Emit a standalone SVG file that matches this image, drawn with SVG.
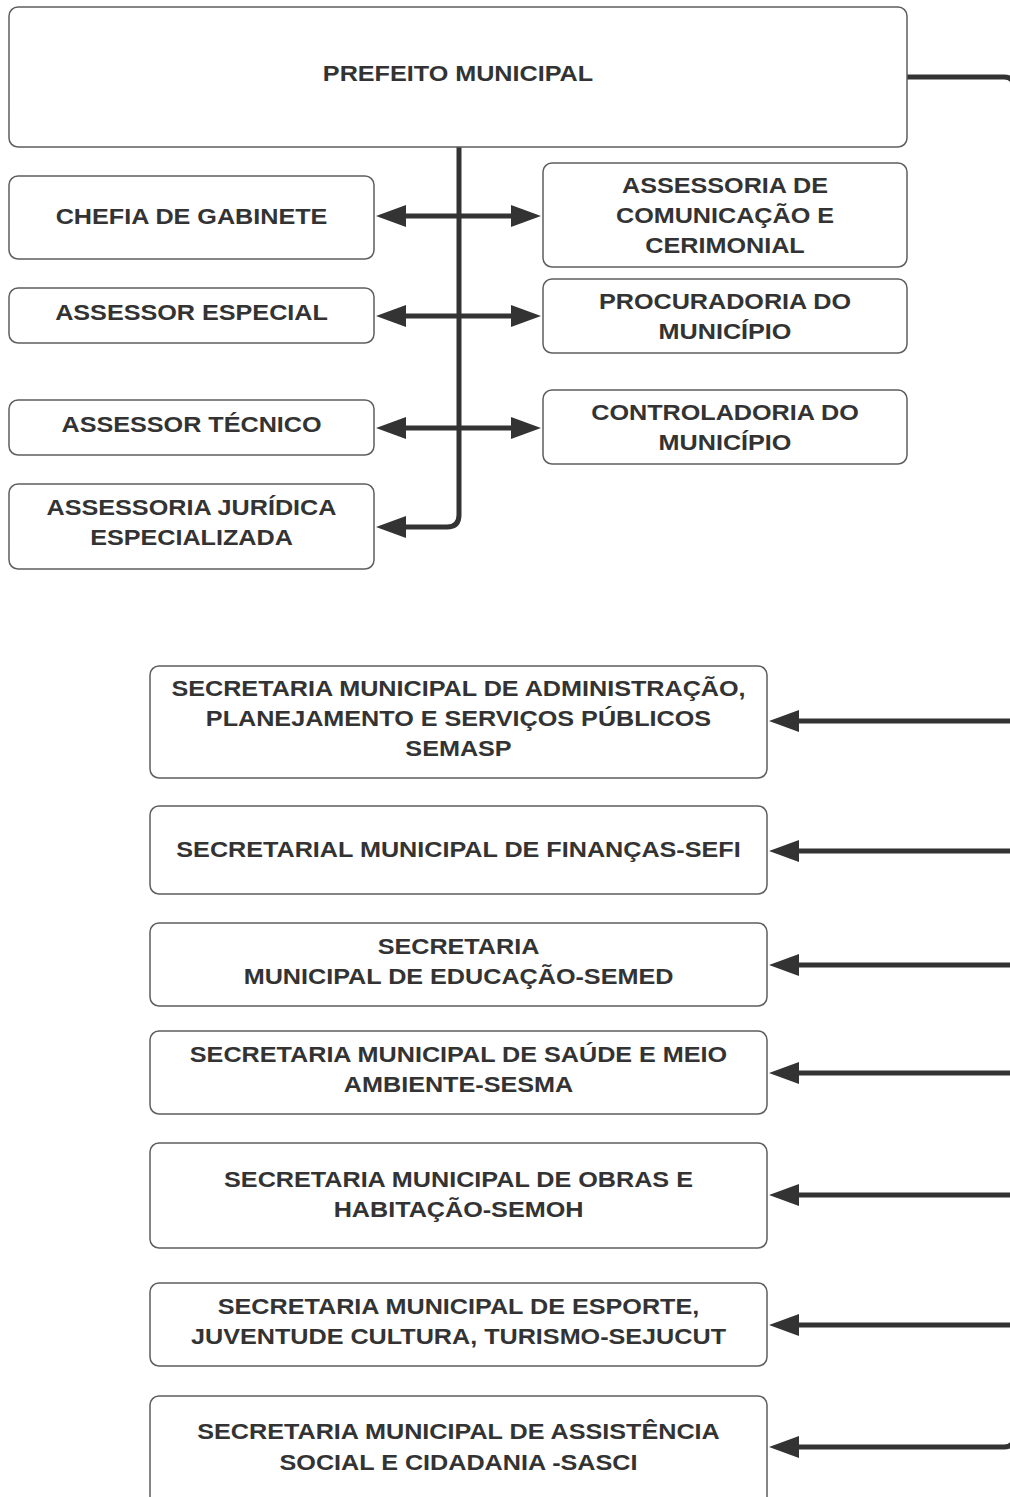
<svg xmlns="http://www.w3.org/2000/svg" width="1010" height="1497" viewBox="0 0 1010 1497">
<style>
.b{fill:#fff;stroke:#5e5e5e;stroke-width:1.5}
.t{font-family:"Liberation Sans",Arial,sans-serif;font-weight:bold;font-size:22px;fill:#333;text-anchor:middle}
.c{fill:none;stroke:#333;stroke-width:5}
</style>
<defs>
<marker id="ah" viewBox="0 0 30 22" refX="20" refY="11" markerWidth="30" markerHeight="22" markerUnits="userSpaceOnUse" orient="auto">
<path d="M0,0 L30,11 L0,22 z" fill="#333"/>
</marker>
</defs>
<rect width="1010" height="1497" fill="#fff"/>
<g id="connectors">
<path class="c" d="M459,147 V515 Q459,527 447,527 H386" marker-end="url(#ah)"/>
<path class="c" d="M459,216 H386" marker-end="url(#ah)"/>
<path class="c" d="M459,216 H531" marker-end="url(#ah)"/>
<path class="c" d="M459,316 H386" marker-end="url(#ah)"/>
<path class="c" d="M459,316 H531" marker-end="url(#ah)"/>
<path class="c" d="M459,428 H386" marker-end="url(#ah)"/>
<path class="c" d="M459,428 H531" marker-end="url(#ah)"/>
<path class="c" d="M907,77 H1004 Q1014,77 1014,87 V1437 Q1014,1447 1004,1447 H779" marker-end="url(#ah)"/>
<path class="c" d="M1014,721 H779" marker-end="url(#ah)"/>
<path class="c" d="M1014,851 H779" marker-end="url(#ah)"/>
<path class="c" d="M1014,965 H779" marker-end="url(#ah)"/>
<path class="c" d="M1014,1073 H779" marker-end="url(#ah)"/>
<path class="c" d="M1014,1195 H779" marker-end="url(#ah)"/>
<path class="c" d="M1014,1325 H779" marker-end="url(#ah)"/>
</g>
<g id="prefeito"><rect class="b" x="9" y="7" width="898" height="140" rx="9"/>
<text class="t" transform="translate(458,81) scale(1.145,1)">PREFEITO MUNICIPAL</text></g>
<g id="chefia"><rect class="b" x="9" y="176" width="365" height="83" rx="9"/>
<text class="t" transform="translate(191.5,224) scale(1.145,1)">CHEFIA DE GABINETE</text></g>
<g id="comunicacao"><rect class="b" x="543" y="163" width="364" height="104" rx="9"/>
<text class="t" transform="translate(725,193) scale(1.145,1)">ASSESSORIA DE</text>
<text class="t" transform="translate(725,223) scale(1.145,1)">COMUNICAÇÃO E</text>
<text class="t" transform="translate(725,253) scale(1.145,1)">CERIMONIAL</text></g>
<g id="especial"><rect class="b" x="9" y="288" width="365" height="55" rx="9"/>
<text class="t" transform="translate(191.5,320) scale(1.145,1)">ASSESSOR ESPECIAL</text></g>
<g id="procuradoria"><rect class="b" x="543" y="279" width="364" height="74" rx="9"/>
<text class="t" transform="translate(725,309) scale(1.145,1)">PROCURADORIA DO</text>
<text class="t" transform="translate(725,339) scale(1.145,1)">MUNICÍPIO</text></g>
<g id="tecnico"><rect class="b" x="9" y="400" width="365" height="55" rx="9"/>
<text class="t" transform="translate(191.5,432) scale(1.145,1)">ASSESSOR TÉCNICO</text></g>
<g id="controladoria"><rect class="b" x="543" y="390" width="364" height="74" rx="9"/>
<text class="t" transform="translate(725,420) scale(1.145,1)">CONTROLADORIA DO</text>
<text class="t" transform="translate(725,450) scale(1.145,1)">MUNICÍPIO</text></g>
<g id="juridica"><rect class="b" x="9" y="484" width="365" height="85" rx="9"/>
<text class="t" transform="translate(191.5,515) scale(1.145,1)">ASSESSORIA JURÍDICA</text>
<text class="t" transform="translate(191.5,545) scale(1.145,1)">ESPECIALIZADA</text></g>
<g id="semasp"><rect class="b" x="150" y="666" width="617" height="112" rx="9"/>
<text class="t" transform="translate(458.5,696) scale(1.145,1)">SECRETARIA MUNICIPAL DE ADMINISTRAÇÃO,</text>
<text class="t" transform="translate(458.5,726) scale(1.145,1)">PLANEJAMENTO E SERVIÇOS PÚBLICOS</text>
<text class="t" transform="translate(458.5,756) scale(1.145,1)">SEMASP</text></g>
<g id="sefi"><rect class="b" x="150" y="806" width="617" height="88" rx="9"/>
<text class="t" transform="translate(458.5,857) scale(1.145,1)">SECRETARIAL MUNICIPAL DE FINANÇAS-SEFI</text></g>
<g id="semed"><rect class="b" x="150" y="923" width="617" height="83" rx="9"/>
<text class="t" transform="translate(458.5,954) scale(1.145,1)">SECRETARIA</text>
<text class="t" transform="translate(458.5,984) scale(1.145,1)">MUNICIPAL DE EDUCAÇÃO-SEMED</text></g>
<g id="sesma"><rect class="b" x="150" y="1031" width="617" height="83" rx="9"/>
<text class="t" transform="translate(458.5,1062) scale(1.145,1)">SECRETARIA MUNICIPAL DE SAÚDE E MEIO</text>
<text class="t" transform="translate(458.5,1092) scale(1.145,1)">AMBIENTE-SESMA</text></g>
<g id="semoh"><rect class="b" x="150" y="1143" width="617" height="105" rx="9"/>
<text class="t" transform="translate(458.5,1187) scale(1.145,1)">SECRETARIA MUNICIPAL DE OBRAS E</text>
<text class="t" transform="translate(458.5,1217) scale(1.145,1)">HABITAÇÃO-SEMOH</text></g>
<g id="sejucut"><rect class="b" x="150" y="1283" width="617" height="83" rx="9"/>
<text class="t" transform="translate(458.5,1314) scale(1.145,1)">SECRETARIA MUNICIPAL DE ESPORTE,</text>
<text class="t" transform="translate(458.5,1344) scale(1.145,1)">JUVENTUDE CULTURA, TURISMO-SEJUCUT</text></g>
<g id="sasci"><rect class="b" x="150" y="1396" width="617" height="112" rx="9"/>
<text class="t" transform="translate(458.5,1439) scale(1.145,1)">SECRETARIA MUNICIPAL DE ASSISTÊNCIA</text>
<text class="t" transform="translate(458.5,1470) scale(1.145,1)">SOCIAL E CIDADANIA -SASCI</text></g>
</svg>
